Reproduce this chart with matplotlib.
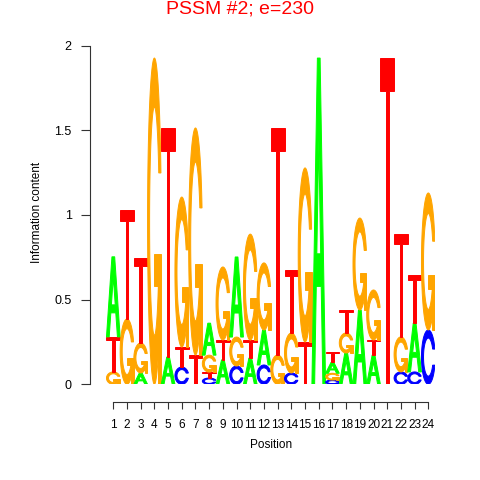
import matplotlib

matplotlib.use("Agg")
import matplotlib.pyplot as plt
import numpy as np
from matplotlib.patches import Polygon

plt.rcParams["font.family"] = ["Liberation Sans", "DejaVu Sans"]

# information content of each letter per position (1..24)
positions = list(range(1, 25))
a_ht = [0.473, 0, 0.067, 0, 0.161, 0, 0, 0.189, 0.144, 0.473, 0.155, 0.207,
        0, 0, 0, 1.927, 0.065, 0.185, 0.439, 0.173, 0, 0, 0.289, 0]
c_ht = [0, 0, 0, 0, 0, 0.102, 0, 0.037, 0, 0.108, 0, 0.114,
        0, 0.067, 0, 0, 0.025, 0, 0, 0, 0, 0.073, 0.073, 0.321]
g_ht = [0.073, 0.386, 0.177, 1.927, 0, 0.886, 1.341, 0.10, 0.431, 0.171, 0.626, 0.396,
        0.173, 0.236, 1.028, 0, 0.04, 0.118, 0.543, 0.295, 0, 0.207, 0, 0.809]
t_ht = [0.207, 0.644, 0.502, 0, 1.353, 0.118, 0.173, 0.035, 0.118, 0, 0.106, 0,
        1.341, 0.372, 0.25, 0, 0.06, 0.136, 0, 0.089, 1.927, 0.608, 0.284, 0]
# stacking order, bottom to top
stack_order = ["GTA", "GT", "AGT", "G", "AT", "CTG", "TG", "CTGA", "ATG", "CGA", "ATG", "CAG",
               "GT", "CGT", "TG", "A", "CGAT", "AGT", "AG", "ATG", "T", "CGT", "CAT", "CG"]
y_ticks = [0, 0.5, 1, 1.5, 2]
y_labels = ["0", "0.5", "1", "1.5", "2"]

colors = {"A": "#00FF00", "C": "#0000FF", "G": "#FFA500", "T": "#FF0000"}
heights = {"A": a_ht, "C": c_ht, "G": g_ht, "T": t_ht}


def ring_shape():
    a1 = np.linspace(0.3 + np.pi / 2, np.pi, 100)
    a2 = np.linspace(np.pi, 1.5 * np.pi, 100)
    yl1 = 0.5 + 0.5 * np.cos(a1)
    xl = np.r_[0.5 + 0.5 * np.sin(a1), 0.5 + 0.5 * np.sin(a2)]
    yl = np.r_[yl1, 0.5 + 0.5 * np.cos(a2)]
    x = np.r_[xl, xl[::-1]]
    y = np.r_[yl, 1 - yl[::-1]]
    xi1 = 0.5 + 0.35 * np.sin(a1)
    yi1 = 0.5 + 0.35 * np.cos(a1)
    keep = yi1 <= yl1.max()
    xi1, yi1 = xi1[keep], yi1[keep]
    yi1[0] = yl1.max()
    xi = np.r_[xi1, 0.5 + 0.35 * np.sin(a2)]
    yi = np.r_[yi1, 0.5 + 0.35 * np.cos(a2)]
    x1 = np.r_[xi, xi[::-1]]
    y1 = np.r_[yi, 1 - yi[::-1]]
    return np.r_[x, x1[::-1]], np.r_[y, y1[::-1]], xl[:100].max()


RX, RY, R1 = ring_shape()
SHAPES = {
    "A": [(np.array([0, 4, 6, 10, 8, 6.8, 3.2, 2, 0]) / 10,
           np.array([0, 10, 10, 0, 0, 3, 3, 0, 0]) / 10, None),
          (np.array([3.6, 5, 6.4, 3.6]) / 10, np.array([4, 7.5, 4, 4]) / 10, "white")],
    "C": [(RX, RY, None)],
    "G": [(RX, RY, None),
          (np.array([R1, 0.5, 0.5, R1 - 0.2, R1 - 0.2, R1, R1]),
           np.array([0.4, 0.4, 0.3, 0.3, 0, 0, 0.4]), None)],
    "T": [(np.array([0, 10, 10, 6, 6, 4, 4, 0]) / 10,
           np.array([10, 10, 9, 9, 0, 0, 9, 9]) / 10, None)],
}


def draw_letter(ax, letter, x0, y0, ht):
    for sx, sy, fill in SHAPES[letter]:
        pts = np.column_stack([x0 + sx, y0 + ht * sy])
        ax.add_patch(Polygon(pts, closed=True, facecolor=fill or colors[letter],
                             edgecolor=colors[letter], linewidth=0.7,
                             joinstyle="miter"))


fig = plt.figure(figsize=(4.8, 4.8), dpi=100)
ax = fig.add_axes([0.2218, 0.1994, 0.6848, 0.7054])

for i, pos in enumerate(positions):
    base = 0.0
    for letter in stack_order[i]:
        ht = heights[letter][i]
        if ht > 0:
            draw_letter(ax, letter, pos - 0.5, base, ht)
            base += ht

ax.set_xlim(0.5, 24.5)
ax.set_ylim(0, 2)
for side in ("top", "right"):
    ax.spines[side].set_visible(False)
ax.spines["left"].set_position(("outward", 11.8))
ax.spines["bottom"].set_position(("outward", 12.5))
ax.spines["left"].set_bounds(0, 2)
ax.spines["bottom"].set_bounds(1, 24)
for side in ("left", "bottom"):
    ax.spines[side].set_linewidth(0.8)
    ax.spines[side].set_color("#333333")

ax.set_xticks(positions)
ax.set_xticklabels([str(p) for p in positions])
ax.set_yticks(y_ticks)
ax.set_yticklabels(y_labels)
ax.tick_params(axis="x", length=4.8, width=0.8, pad=7.6, labelsize=8.5, color="#333333")
ax.tick_params(axis="y", length=6.3, width=0.8, pad=7.0, labelsize=9, color="#333333")

fig.text(270.8 / 480, 1 - 445 / 480, "Position", ha="center", va="center", fontsize=8.5)
fig.text(37.5 / 480, 1 - 212 / 480, "Information content", ha="center", va="center",
         rotation=90, fontsize=8.5)
fig.text(0.5, 1 - 8.5 / 480, "PSSM #2; e=230", ha="center", va="center",
         fontsize=14, color="#FF0000")

fig.savefig("out.png", dpi=100)
